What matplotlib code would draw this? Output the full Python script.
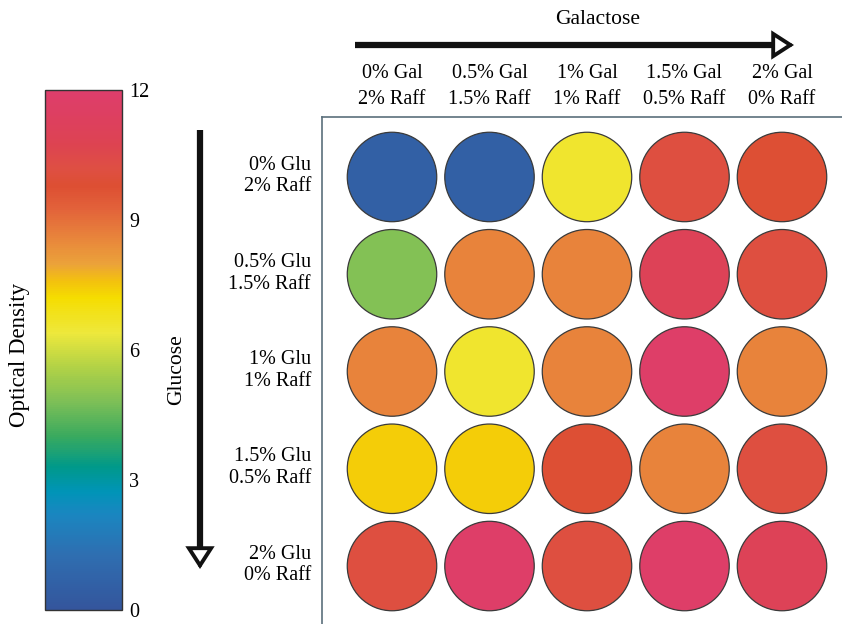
import matplotlib
matplotlib.use("Agg")
import matplotlib.pyplot as plt
from matplotlib.colors import LinearSegmentedColormap
from matplotlib.patches import FancyArrowPatch

plt.rcParams['font.family'] = ['Liberation Serif', 'DejaVu Serif']

gal_labels = ['0% Gal\n2% Raff', '0.5% Gal\n1.5% Raff', '1% Gal\n1% Raff',
              '1.5% Gal\n0.5% Raff', '2% Gal\n0% Raff']
glu_labels = ['0% Glu\n2% Raff', '0.5% Glu\n1.5% Raff', '1% Glu\n1% Raff',
              '1.5% Glu\n0.5% Raff', '2% Glu\n0% Raff']

# optical density, rows = glucose level, cols = galactose level
od = [
    [0.6, 0.6, 6.6, 10.1, 9.8],
    [4.9, 8.6, 8.6, 11.0, 10.1],
    [8.6, 6.6, 8.6, 11.8, 8.6],
    [7.45, 7.45, 9.8, 8.6, 10.1],
    [10.1, 11.8, 10.1, 11.8, 11.0],
]
cbar_ticks = [0, 3, 6, 9, 12]

# colour scale
stops = [
    (0.0, '#34559C'), (1.2, '#2F6DB0'), (2.2, '#1A86C0'), (2.7, '#0094B8'),
    (3.3, '#00998A'), (4.0, '#3AAA5E'), (4.8, '#7DBF57'), (5.6, '#B2D246'),
    (6.4, '#EEE83C'), (7.2, '#F5DD00'), (7.6, '#F3C10E'), (8.0, '#EBA23A'),
    (8.6, '#E8843B'), (9.3, '#E2613A'), (9.8, '#DD4F33'), (10.2, '#DE4F43'),
    (10.8, '#DD4352'), (11.5, '#DD3F62'), (12.0, '#DE3E6C'),
]
cmap = LinearSegmentedColormap.from_list('od', [(v / 12, c) for v, c in stops])

W, H = 842, 624
fig = plt.figure(figsize=(W / 100, H / 100), dpi=100)
fs = 14.5

# plate panel
ax = fig.add_axes([322 / W, 0, (W - 322) / W, (H - 117) / H])
xs, ys, vals = [], [], []
for r, row in enumerate(od):
    for c, v in enumerate(row):
        xs.append(c)
        ys.append(r)
        vals.append(v)
sc = ax.scatter(xs, ys, c=vals, cmap=cmap, vmin=0, vmax=12, s=4150,
                edgecolors='#3a3a3a', linewidths=0.9)
ax.set_xlim(-70 / 97.5, (W - 392) / 97.5)
ax.set_ylim(4 + 58 / 97.3, -60 / 97.3)
ax.set_xticks([])
ax.set_yticks([])
for s in ['right', 'bottom']:
    ax.spines[s].set_visible(False)
for s in ['left', 'top']:
    ax.spines[s].set_color('#5b6f7c')
    ax.spines[s].set_linewidth(1.2)

for c, lab in enumerate(gal_labels):
    ax.annotate(lab, (c, 0), xycoords=('data', 'figure fraction'),
                xytext=(c, 1 - 87 / H), textcoords=('data', 'figure fraction'),
                ha='center', va='center', fontsize=fs, linespacing=1.5,
                annotation_clip=False)
for r, lab in enumerate(glu_labels):
    ax.annotate(lab, (0, r), xycoords=('figure fraction', 'data'),
                xytext=(311 / W, r - 1 / 97.3), textcoords=('figure fraction', 'data'),
                ha='right', va='center', fontsize=fs, linespacing=1.2,
                annotation_clip=False)


def arrow(x0, y0, x1, y1, base):
    # thick shaft, then an open triangular head
    P = lambda x, y: (x / W, 1 - y / H)
    fig.add_artist(FancyArrowPatch(P(x0, y0), P(*base), transform=fig.transFigure,
                                   arrowstyle='-', lw=4.5, color='#111111',
                                   shrinkA=0, shrinkB=0, capstyle='butt'))
    fig.add_artist(FancyArrowPatch(P(*base), P(x1, y1), transform=fig.transFigure,
                                   arrowstyle='-|>,head_length=0.62,head_width=0.4',
                                   lw=2.8, fc='white', ec='#111111', mutation_scale=20,
                                   shrinkA=0, shrinkB=0, joinstyle='miter'))


arrow(355, 45, 794, 45, (779, 45))
arrow(200, 130, 200, 569, (200, 554))
fig.text(598 / W, 1 - 20 / H, 'Galactose', ha='center', va='center', fontsize=15.5)
fig.text(177 / W, 1 - 370 / H, 'Glucose', ha='center', va='center',
         rotation=90, fontsize=15.5)

# colour bar
cax = fig.add_axes([45 / W, 14 / H, 77 / W, 520 / H])
cb = fig.colorbar(sc, cax=cax, ticks=cbar_ticks)
cb.outline.set_edgecolor('#333333')
cb.outline.set_linewidth(1.0)
cax.tick_params(length=0, labelsize=fs, pad=5)
fig.text(20 / W, 1 - 355 / H, 'Optical Density', ha='center', va='center',
         rotation=90, fontsize=16.5)

fig.savefig('out.png', dpi=100)
